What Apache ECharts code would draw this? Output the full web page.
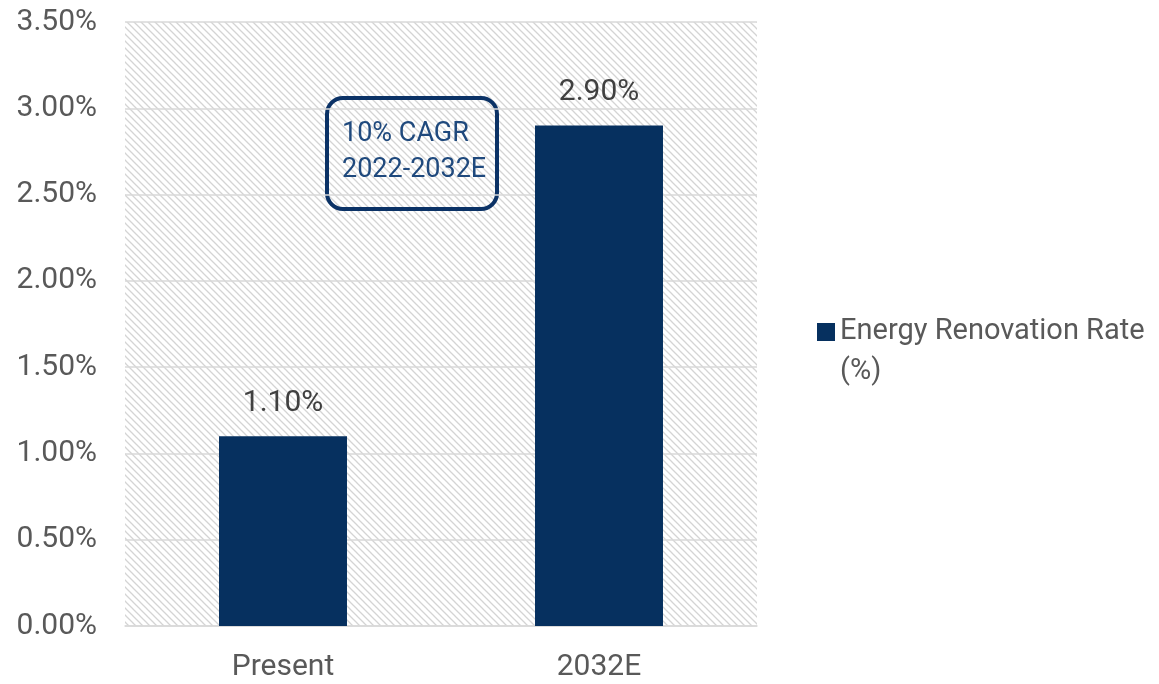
<!DOCTYPE html>
<html>
<head>
<meta charset="utf-8">
<script src="https://cdn.jsdelivr.net/npm/echarts@6/dist/echarts.min.js"></script>
<style>
  html, body { margin: 0; padding: 0; background: #fff; }
  #chart { width: 1159px; height: 684px; }
</style>
</head>
<body>
<div id="chart"></div>
<script>
const categories = ['Present', '2032E'];
const seriesName = 'Energy Renovation Rate\n(%)';
const rates = [1.10, 2.90];
const annotationLines = ['10% CAGR', '2022-2032E'];

// diagonal hatch tile for the plot background
function makeHatch() {
    const size = 7;
    const c = document.createElement('canvas');
    c.width = size;
    c.height = size;
    const ctx = c.getContext('2d');
    ctx.fillStyle = '#ffffff';
    ctx.fillRect(0, 0, size, size);
    ctx.strokeStyle = '#d4d4d4';
    ctx.lineWidth = 1.3;
    ctx.beginPath();
    ctx.moveTo(-1, -1); ctx.lineTo(size + 1, size + 1);
    ctx.moveTo(-1, size - 1); ctx.lineTo(1, size + 1);
    ctx.moveTo(size - 1, -1); ctx.lineTo(size + 1, 1);
    ctx.stroke();
    return c;
}

const chart = echarts.init(document.getElementById('chart'));
const font = 'Roboto, "Liberation Sans", sans-serif';

chart.setOption({
    backgroundColor: '#ffffff',
    animation: false,
    textStyle: { fontFamily: font },
    grid: {
        left: 125,
        right: 402,
        top: 22,
        bottom: 58,
        show: true,
        borderWidth: 0,
        backgroundColor: { image: makeHatch(), repeat: 'repeat' }
    },
    legend: {
        orient: 'vertical',
        left: 812,
        top: 307,
        itemWidth: 18,
        itemHeight: 58,
        // square at the top of a taller box so it lines up with the first text line
        icon: 'path://M0,0h18v18h-18z M0,58h18',
        textStyle: {
            color: '#595959',
            fontSize: 29,
            fontFamily: font,
            lineHeight: 40
        },
        data: [seriesName]
    },
    xAxis: {
        type: 'category',
        data: categories,
        axisLine: { lineStyle: { color: '#d9d9d9', width: 1.5 } },
        axisTick: { show: false },
        axisLabel: { color: '#595959', fontSize: 30, margin: 26 }
    },
    yAxis: {
        type: 'value',
        min: 0,
        max: 3.5,
        interval: 0.5,
        axisLine: { show: false },
        axisTick: { show: false },
        axisLabel: {
            color: '#595959',
            fontSize: 30,
            margin: 28,
            formatter: (v) => v.toFixed(2) + '%'
        },
        splitLine: { lineStyle: { color: '#d9d9d9', width: 1.5 } }
    },
    series: [
        {
            name: seriesName,
            type: 'bar',
            data: rates,
            barWidth: '40.5%',
            itemStyle: { color: '#06305f' },
            label: {
                show: true,
                position: 'top',
                distance: 18,
                color: '#404040',
                fontSize: 30,
                formatter: (p) => p.value.toFixed(2) + '%'
            }
        }
    ],
    graphic: [
        {
            type: 'group',
            left: 325,
            top: 96,
            children: [
                {
                    type: 'rect',
                    shape: { x: 0, y: 0, width: 170, height: 111, r: 16 },
                    style: { fill: 'transparent', stroke: '#0b3266', lineWidth: 4 }
                },
                {
                    type: 'text',
                    x: 15,
                    y: 18,
                    style: {
                        text: annotationLines.join('\n'),
                        fill: '#1f497d',
                        font: '27px ' + font,
                        lineHeight: 36
                    }
                }
            ]
        }
    ]
});

window.addEventListener('resize', () => chart.resize());
</script>
</body>
</html>
